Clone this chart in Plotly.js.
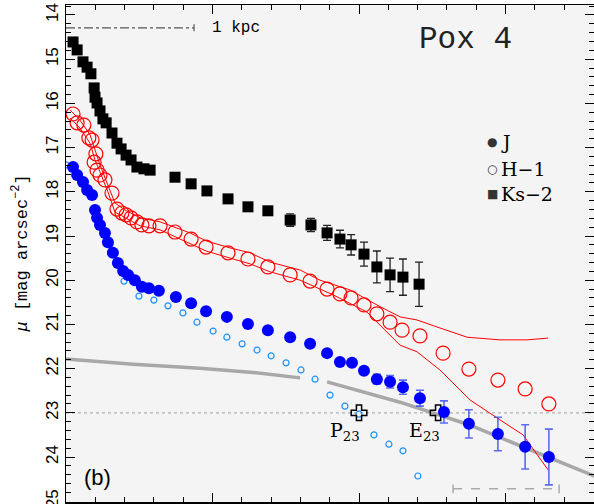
<!DOCTYPE html>
<html>
<head>
<meta charset="utf-8">
<script src="https://cdn.plot.ly/plotly-3.0.1.min.js"></script>
<style>html,body{margin:0;padding:0;background:#fff;}#chart{width:594px;height:504px;}</style>
</head>
<body>
<div id="chart"></div>
<script>
// ---- Data (radius in arbitrary units, surface brightness in mag arcsec^-2) ----
// Ks-2 (black squares)
const ksX = [0.24,0.38,0.58,0.72,0.85,0.96,0.99,1.06,1.16,1.26,1.37,1.57,1.74,1.88,2.05,2.22,2.42,2.66,2.87,3.72,4.27,4.81,5.53,6.21,6.89,7.65,8.36,8.91,9.35,9.73,10.17,10.61,11.06,11.50,12.05];
const ksY = [14.61,14.79,15.06,15.18,15.33,15.65,15.86,15.99,16.17,16.35,16.44,16.67,16.90,17.03,17.17,17.28,17.44,17.48,17.51,17.67,17.82,17.98,18.16,18.34,18.43,18.64,18.75,18.93,19.07,19.20,19.41,19.70,19.88,19.93,20.09];
const ksErr = [0,0,0,0,0,0,0,0,0,0,0,0,0,0,0,0,0,0,0,0,0,0,0,0.04,0.03,0.14,0.15,0.17,0.20,0.23,0.27,0.36,0.38,0.41,0.50];

// H-1 (red open circles)
const hX = [0.24,0.38,0.61,0.78,0.89,1.02,0.96,1.06,1.16,1.33,1.57,1.74,1.91,2.05,2.22,2.42,2.59,2.83,3.21,3.72,4.27,4.78,5.53,6.21,6.89,7.65,8.33,8.91,9.35,9.73,10.17,10.61,11.06,11.47,12.08,12.87,13.75,14.74,15.67,16.48];
const hY = [16.24,16.44,16.49,16.78,16.83,17.14,17.33,17.51,17.62,17.73,18.03,18.39,18.48,18.52,18.59,18.68,18.75,18.77,18.77,18.91,19.07,19.25,19.38,19.52,19.70,19.88,20.02,20.20,20.31,20.40,20.56,20.76,20.95,21.13,21.26,21.65,22.01,22.26,22.46,22.80];
// H-1 envelope lines
const hUpX = [0.14,0.48,0.82,0.99,1.16,1.43,1.67,2.01,2.53,3.21,4.23,4.78,5.60,6.28,6.96,7.99,8.67,9.69,10.61,11.40,11.98,12.76,13.69,14.81,15.73,16.45];
const hUpY = [16.15,16.38,16.71,17.05,17.39,17.85,18.25,18.41,18.59,18.68,18.93,19.11,19.27,19.38,19.59,19.77,20.00,20.22,20.56,20.83,20.90,21.08,21.29,21.35,21.35,21.31];
const hLoX = [0.14,0.48,0.82,0.99,1.16,1.43,1.67,2.01,2.53,3.21,4.23,4.78,5.60,6.28,6.96,7.99,9.11,10.27,11.40,11.98,12.76,13.79,14.81,15.60,16.45];
const hLoY = [16.33,16.56,16.90,17.28,17.55,18.00,18.46,18.59,18.77,18.86,19.16,19.34,19.50,19.63,19.81,20.00,20.33,20.72,21.47,21.62,22.03,22.71,23.16,23.50,24.29];

// J (blue filled circles)
const jX = [0.24,0.38,0.58,0.72,0.89,0.99,1.06,1.16,1.33,1.43,1.60,1.77,1.95,2.12,2.35,2.59,2.83,3.17,3.75,4.27,4.78,5.49,6.21,6.89,7.65,8.33,8.91,9.35,9.76,10.17,10.61,11.06,11.50,12.08,12.90,13.75,14.74,15.67,16.48];
const jY = [17.44,17.62,17.78,17.96,18.07,18.41,18.59,18.75,18.93,19.14,19.38,19.61,19.79,19.88,20.00,20.15,20.18,20.24,20.38,20.52,20.70,20.83,20.99,21.13,21.29,21.44,21.65,21.85,21.87,22.05,22.24,22.30,22.42,22.67,22.98,23.25,23.48,23.77,24.00];
const jErr = [0,0,0,0,0,0,0,0,0,0,0,0,0,0,0,0,0,0,0,0,0,0,0,0,0,0,0,0,0,0.04,0.11,0.14,0.16,0.18,0.25,0.32,0.38,0.50,0.63];

// J point-source-subtracted / small open circles
const pX = [0.0,0.5,1.0,1.5,1.98,2.49,3.00,3.48,3.99,4.47,5.02,5.49,6.01,6.52,7.00,7.51,8.02,8.50,9.01,9.52,10.00,10.51,11.02,11.50,12.01];
const pY = [17.39,17.72,18.45,19.20,20.02,20.36,20.45,20.58,20.74,20.95,21.15,21.29,21.44,21.58,21.71,21.87,22.03,22.24,22.60,22.85,23.03,23.50,23.71,23.86,24.43];

// Host model fit (gray), two segments
const fitLX = [0.0,2.29,4.57,6.28,7.99];
const fitLY = [21.78,21.90,21.99,22.08,22.21];
const fitRX = [8.91,11.4,13.75,18.1];
const fitRY = [22.30,22.76,23.27,24.45];

// P23 and E23 markers
const refX = [10.0,12.70];
const refY = [23.0,23.0];
const refLbl = ['P<sub>23</sub>','E<sub>23</sub>'];
const mu23 = 23;

// Scale bars
const kpcBar = {x0:0, x1:4.37, y:14.29, label:'1 kpc'};
const dashBar = {x0:13.21, x1:16.83, y:24.72};

// Legend labels
const legSym = ['●','○','■'];
const legTxt = ['J','H−1','Ks−2'];
const legY = [16.88,17.49,18.06];

const traces = [
  {x:fitLX, y:fitLY, mode:'lines', line:{color:'#a8a8a8', width:3.5}, hoverinfo:'skip'},
  {x:fitRX, y:fitRY, mode:'lines', line:{color:'#a8a8a8', width:3.5}, hoverinfo:'skip'},
  {x:[kpcBar.x0,kpcBar.x1], y:[kpcBar.y,kpcBar.y], mode:'lines', line:{color:'#555', width:1.2, dash:'dashdot'}},
  {x:[kpcBar.x1,kpcBar.x1], y:[kpcBar.y-0.08,kpcBar.y+0.08], mode:'lines', line:{color:'#555', width:1.2}},
  {x:[dashBar.x0,dashBar.x1], y:[dashBar.y,dashBar.y], mode:'lines', line:{color:'#aaa', width:1.5, dash:'dash'}},
  {x:[dashBar.x0,dashBar.x0], y:[dashBar.y-0.1,dashBar.y+0.1], mode:'lines', line:{color:'#aaa', width:1.5}},
  {x:[dashBar.x1,dashBar.x1], y:[dashBar.y-0.1,dashBar.y+0.1], mode:'lines', line:{color:'#aaa', width:1.5}},
  {x:pX, y:pY, mode:'markers', marker:{symbol:'circle-open', size:6, color:'#1e90ff', line:{width:1.2}}},
  {x:hUpX, y:hUpY, mode:'lines', line:{color:'#ff0000', width:1}},
  {x:hLoX, y:hLoY, mode:'lines', line:{color:'#ff0000', width:1}},
  {x:hX, y:hY, mode:'markers', marker:{symbol:'circle-open', size:14, color:'#ff0000', line:{width:1.2}}},
  {x:ksX, y:ksY, mode:'markers', marker:{symbol:'square', size:11, color:'#000'},
   error_y:{type:'data', array:ksErr, visible:true, color:'#222', thickness:1.3, width:4}},
  {x:refX, y:refY, mode:'markers', marker:{symbol:'cross-open', size:13, color:'#000', line:{width:1.5}}},
  {x:jX, y:jY, mode:'markers', marker:{symbol:'circle', size:12, color:'#0000ff'},
   error_y:{type:'data', array:jErr, visible:true, color:'rgba(40,60,240,0.75)', thickness:1.6, width:4}}
];

const annotations = [
  {xref:'paper', yref:'paper', x:0, y:0.5, xshift:-46, text:'<i>μ</i> [mag arcsec<sup>−2</sup>]', textangle:-90, showarrow:false,
   font:{family:'Liberation Mono', size:17, color:'#000'}, xanchor:'center', yanchor:'middle'},
  {x:kpcBar.x1, y:kpcBar.y, text:kpcBar.label, showarrow:false, xanchor:'left', xshift:16,
   font:{family:'Liberation Mono', size:16, color:'#000'}},
  {xref:'paper', yref:'paper', x:0.756, y:0.93, text:'Pox 4', showarrow:false, xanchor:'center', yanchor:'middle',
   font:{family:'Liberation Mono', size:31, color:'#222'}},
  {xref:'paper', yref:'paper', x:0.059, y:0.05, text:'(b)', showarrow:false, xanchor:'center', yanchor:'middle',
   font:{family:'Liberation Sans', size:22, color:'#000'}},
];
refX.forEach((v,i)=>{
  annotations.push({x:v, y:refY[i], text:refLbl[i], showarrow:false, xanchor:'center', yanchor:'top', xshift:-14, yshift:-4,
    font:{family:'DejaVu Serif', size:19, color:'#000'}});
});
legTxt.forEach((t,i)=>{
  annotations.push({xref:'paper', x:0.807, y:legY[i], text:legSym[i], showarrow:false, xanchor:'center', yanchor:'middle',
    font:{family:'DejaVu Sans', size:12, color:'#333'}});
  annotations.push({xref:'paper', x:0.82, y:legY[i], text:t, showarrow:false, xanchor:'left', yanchor:'middle',
    font:{family:'DejaVu Serif', size:19, color:'#000'}});
});

const layout = {
  width:594, height:504,
  margin:{l:66, r:0, t:5, b:2},
  paper_bgcolor:'#ffffff', plot_bgcolor:'#f4f4f4',
  showlegend:false,
  xaxis:{range:[0,18.02], showticklabels:false, ticks:'inside', tick0:0, dtick:5, ticklen:9, tickwidth:1, tickcolor:'#000',
    minor:{dtick:1, ticklen:5, tickcolor:'#000', ticks:'inside'},
    showline:true, linecolor:'#000', linewidth:1.5, mirror:'allticks', showgrid:false, zeroline:false},
  yaxis:{range:[25.018,13.774], ticks:'inside', tick0:14, dtick:1, ticklen:9, tickwidth:1, tickcolor:'#000',
    minor:{dtick:0.2, ticklen:5, tickcolor:'#000', ticks:'inside'},
    tickangle:-90, tickfont:{family:'Liberation Sans', size:17, color:'#000'}, ticklabeloverflow:'allow',
    showline:true, linecolor:'#000', linewidth:1.5, mirror:'allticks', showgrid:false, zeroline:false},
  shapes:[
    {type:'line', xref:'paper', x0:0, x1:1, y0:mu23, y1:mu23, line:{color:'#b0b0b0', width:1.2, dash:'dot'}, layer:'below'}
  ],
  annotations:annotations
};

Plotly.newPlot('chart', traces, layout, {staticPlot:true, displayModeBar:false});
</script>
</body>
</html>
